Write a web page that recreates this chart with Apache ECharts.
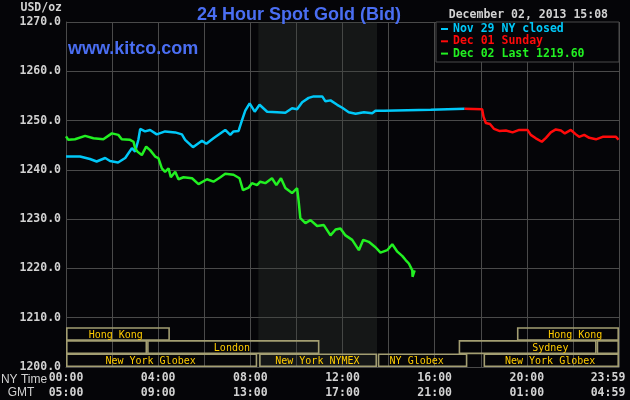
<!DOCTYPE html>
<html>
<head>
<meta charset="utf-8">
<script src="https://cdn.jsdelivr.net/npm/echarts@6/dist/echarts.min.js"></script>
<style>
html,body{margin:0;padding:0;background:#050508;}
#chart{width:630px;height:400px;}
</style>
</head>
<body>
<div id="chart"></div>
<script>
// ---- data ----
const seriesNames = ['Nov 29 NY closed', 'Dec 01 Sunday', 'Dec 02 Last 1219.60'];
const seriesColors = ['#00c8f8', '#ff0a0a', '#22f022'];

// [hour (NY time), price]
const nov29 = [
  [0.00,1242.7],[0.61,1242.7],[1.04,1242.2],[1.33,1241.7],[1.70,1242.4],[1.91,1241.8],
  [2.26,1241.5],[2.57,1242.4],[2.86,1244.4],[3.00,1243.7],[3.14,1246.1],[3.22,1248.3],
  [3.43,1247.8],[3.65,1248.1],[3.94,1247.2],[4.30,1247.8],[4.74,1247.6],[5.03,1247.2],
  [5.17,1246.1],[5.51,1244.6],[5.90,1245.9],[6.09,1245.3],[6.40,1246.4],[6.91,1248.1],
  [7.13,1247.1],[7.27,1247.8],[7.49,1247.9],[7.64,1250.1],[7.78,1252.0],[7.97,1253.5],
  [8.19,1251.8],[8.40,1253.2],[8.73,1251.8],[9.16,1251.7],[9.52,1251.6],[9.81,1252.5],
  [10.03,1252.3],[10.25,1253.7],[10.53,1254.6],[10.75,1254.9],[11.12,1254.9],[11.26,1253.9],
  [11.48,1254.1],[11.77,1253.2],[11.99,1252.6],[12.27,1251.7],[12.57,1251.4],[12.93,1251.7],
  [13.29,1251.5],[13.43,1252.0],[13.80,1252.0],[15.83,1252.2],[15.91,1252.4],[17.30,1252.4]
];
const dec01 = [
  [17.30,1252.4],[18.06,1252.3],[18.12,1250.8],[18.22,1249.5],[18.40,1249.3],[18.58,1248.3],
  [18.80,1247.9],[19.09,1248.0],[19.38,1247.6],[19.67,1248.1],[20.03,1248.1],[20.17,1247.1],
  [20.39,1246.4],[20.65,1245.7],[20.83,1246.5],[21.04,1247.6],[21.26,1248.2],[21.48,1248.0],
  [21.65,1247.4],[21.91,1248.1],[22.13,1247.2],[22.27,1246.7],[22.49,1247.1],[22.71,1246.5],
  [23.00,1246.2],[23.29,1246.7],[23.65,1246.7],[23.87,1246.7],[23.98,1246.1]
];
const dec02 = [
  [0.00,1246.8],[0.10,1246.1],[0.39,1246.2],[0.83,1246.9],[1.19,1246.4],[1.62,1246.2],
  [1.99,1247.4],[2.27,1247.1],[2.42,1246.2],[2.78,1246.1],[2.93,1245.7],[3.00,1244.4],
  [3.10,1243.7],[3.29,1243.0],[3.48,1244.7],[3.65,1244.0],[3.87,1242.7],[4.01,1242.4],
  [4.16,1240.3],[4.30,1239.6],[4.45,1240.3],[4.55,1238.5],[4.74,1239.6],[4.88,1238.1],
  [5.10,1238.5],[5.47,1238.3],[5.75,1237.1],[6.12,1238.1],[6.40,1237.6],[6.70,1238.5],
  [6.91,1239.2],[7.27,1239.0],[7.53,1238.3],[7.68,1235.9],[7.93,1236.4],[8.07,1237.3],
  [8.29,1236.9],[8.43,1237.6],[8.65,1237.3],[8.94,1238.3],[9.13,1236.9],[9.33,1238.3],
  [9.52,1236.3],[9.81,1235.3],[10.03,1236.3],[10.10,1233.5],[10.17,1230.2],[10.39,1229.2],
  [10.61,1229.8],[10.90,1228.6],[11.19,1228.8],[11.48,1226.7],[11.70,1227.9],[11.91,1228.1],
  [12.13,1226.7],[12.42,1225.8],[12.71,1223.7],[12.90,1225.8],[13.14,1225.4],[13.43,1224.3],
  [13.65,1223.2],[13.94,1223.7],[14.16,1224.9],[14.38,1223.4],[14.60,1222.5],[14.74,1221.7],
  [14.88,1221.0],[15.03,1219.6],[15.04,1218.3],[15.13,1219.6]
];

// NYMEX trading hours (shaded)
const nymexHours = [8.35, 13.5];

// tick labels
const tickHours = [0, 4, 8, 12, 16, 20, 24];
const nyTimeLabels = ['00:00', '04:00', '08:00', '12:00', '16:00', '20:00', '23:59'];
const gmtLabels = ['05:00', '09:00', '13:00', '17:00', '21:00', '01:00', '04:59'];

// market sessions: row index, start hour, end hour, label centre hour
const sessionNames = ['Hong Kong', 'Hong Kong', '', 'London', 'Sydney', '',
                      'New York Globex', 'New York NYMEX', 'NY Globex', 'New York Globex'];
const sessionRows  = [0, 0, 1, 1, 1, 1, 2, 2, 2, 2];
const sessionStart = [0, 19.57, 0, 3.52, 17.04, 23.03, 0, 8.38, 13.53, 18.12];
const sessionEnd   = [4.51, 24, 3.52, 11.0, 23.03, 24, 8.30, 13.5, 17.42, 24];
const sessionLabelAt = [2.16, 22.1, 1.76, 7.2, 21.02, 23.5, 3.67, 10.91, 15.22, 21.01];

// ---- layout constants (value-space bands of the three session rows) ----
const rowTop = [1207.9, 1205.3, 1202.6];
const rowBottom = [1205.3, 1202.6, 1200.0];

const MONO = '"DejaVu Sans Mono", "Liberation Mono", monospace';
const SANS = '"Liberation Sans", Arial, sans-serif';
const GRID = '#4a4a4a';
const LABEL = '#d2d2d2';

const sessionData = sessionNames.map((n, i) => ({
  name: n,
  value: [sessionStart[i], sessionEnd[i], rowTop[sessionRows[i]], rowBottom[sessionRows[i]], sessionLabelAt[i]]
}));

const chart = echarts.init(document.getElementById('chart'));
chart.setOption({
  backgroundColor: '#050508',
  animation: false,
  grid: { left: 66, right: 11, top: 22, bottom: 33, containLabel: false, outerBoundsMode: 'none' },
  title: {
    text: '24 Hour Spot Gold (Bid)',
    left: 294, top: 1, textAlign: 'center',
    textStyle: { color: '#4a6ef2', fontFamily: SANS, fontWeight: 'bold', fontSize: 18 }
  },
  legend: {
    orient: 'vertical', left: 441, top: 23, padding: 0,
    itemWidth: 7, itemHeight: 2, itemGap: 0.3, icon: 'rect', selectedMode: false,
    textStyle: { fontFamily: MONO, fontWeight: 'bold', fontSize: 11.5, lineHeight: 12 },
    data: seriesNames.map((n, i) => ({ name: n, textStyle: { color: seriesColors[i] } }))
  },
  graphic: [
    { type: 'rect', z: 3, shape: { x: 436, y: 22, width: 183, height: 40 },
      style: { fill: '#050508', stroke: GRID, lineWidth: 1 } },
    { type: 'text', z: 5, style: { text: 'www.kitco.com', x: 68, y: 49, verticalAlign: 'middle',
      fill: '#4a6ef2', font: 'bold 18px ' + SANS } },
    { type: 'text', z: 5, style: { text: 'December 02, 2013 15:08', x: 608, y: 15, align: 'right',
      verticalAlign: 'middle', fill: LABEL, font: 'bold 11.5px ' + MONO } },
    { type: 'text', z: 5, style: { text: 'USD/oz', x: 62, y: 8, align: 'right',
      verticalAlign: 'middle', fill: LABEL, font: 'bold 11.5px ' + MONO } },
    { type: 'text', z: 5, style: { text: 'NY Time', x: 24, y: 380, align: 'center',
      verticalAlign: 'middle', fill: LABEL, font: '12px ' + SANS } },
    { type: 'text', z: 5, style: { text: 'GMT', x: 21, y: 393, align: 'center',
      verticalAlign: 'middle', fill: LABEL, font: '12px ' + SANS } }
  ],
  xAxis: {
    type: 'value', min: 0, max: 24, interval: 2,
    axisLine: { show: true, lineStyle: { color: GRID } },
    axisTick: { show: false },
    splitLine: { show: true, lineStyle: { color: GRID, width: 1 } },
    axisLabel: {
      margin: 4, color: LABEL, fontFamily: MONO, fontWeight: 'bold', fontSize: 11.5, lineHeight: 15,
      showMinLabel: true, showMaxLabel: true, hideOverlap: false,
      formatter: function (v) {
        const i = tickHours.indexOf(v);
        if (i < 0) return '';
        if (v === 24) return '{e|' + nyTimeLabels[i] + '}\n{e|' + gmtLabels[i] + '}';
        return nyTimeLabels[i] + '\n' + gmtLabels[i];
      },
      rich: { e: { fontFamily: MONO, fontWeight: 'bold', fontSize: 11.5, lineHeight: 15,
                   color: LABEL, padding: [0, 22, 0, 0] } }
    }
  },
  yAxis: {
    type: 'value', min: 1200, max: 1270, interval: 10,
    axisLine: { show: true, lineStyle: { color: GRID } },
    axisTick: { show: false },
    splitLine: { show: true, lineStyle: { color: GRID, width: 1 } },
    axisLabel: {
      margin: 5, color: LABEL, fontFamily: MONO, fontWeight: 'bold', fontSize: 11.5,
      formatter: v => v.toFixed(1)
    }
  },
  series: [
    {
      name: seriesNames[0], type: 'line', data: nov29, showSymbol: false, z: 4,
      lineStyle: { color: seriesColors[0], width: 2.5 }, itemStyle: { color: seriesColors[0] },
      markArea: {
        silent: true,
        itemStyle: { color: 'rgba(60,66,58,0.30)' },
        data: [[{ xAxis: nymexHours[0] }, { xAxis: nymexHours[1] }]]
      }
    },
    {
      name: seriesNames[1], type: 'line', data: dec01, showSymbol: false, z: 4,
      lineStyle: { color: seriesColors[1], width: 2.5 }, itemStyle: { color: seriesColors[1] }
    },
    {
      name: seriesNames[2], type: 'line', data: dec02, showSymbol: false, z: 4,
      lineStyle: { color: seriesColors[2], width: 2.5 }, itemStyle: { color: seriesColors[2] }
    },
    {
      type: 'custom', z: 3, silent: true,
      encode: { x: [0, 1, 4], y: [2, 3] },
      data: sessionData,
      renderItem: function (params, api) {
        const s = api.value(0), e = api.value(1), t = api.value(2), b = api.value(3), la = api.value(4);
        const p0 = api.coord([s, t]);
        const p1 = api.coord([e, b]);
        const pl = api.coord([la, (t + b) / 2]);
        return {
          type: 'group',
          children: [
            { type: 'rect',
              shape: { x: p0[0] + 0.8, y: p0[1], width: p1[0] - p0[0] - 1.6, height: p1[1] - p0[1] - 0.8 },
              style: { fill: 'none', stroke: '#a39e72', lineWidth: 1.6 } },
            { type: 'text',
              style: { text: sessionNames[params.dataIndex], x: pl[0], y: pl[1] + 0.5,
                       align: 'center', verticalAlign: 'middle',
                       fill: '#ffcc00', font: '10px ' + MONO } }
          ]
        };
      }
    }
  ]
});
</script>
</body>
</html>
